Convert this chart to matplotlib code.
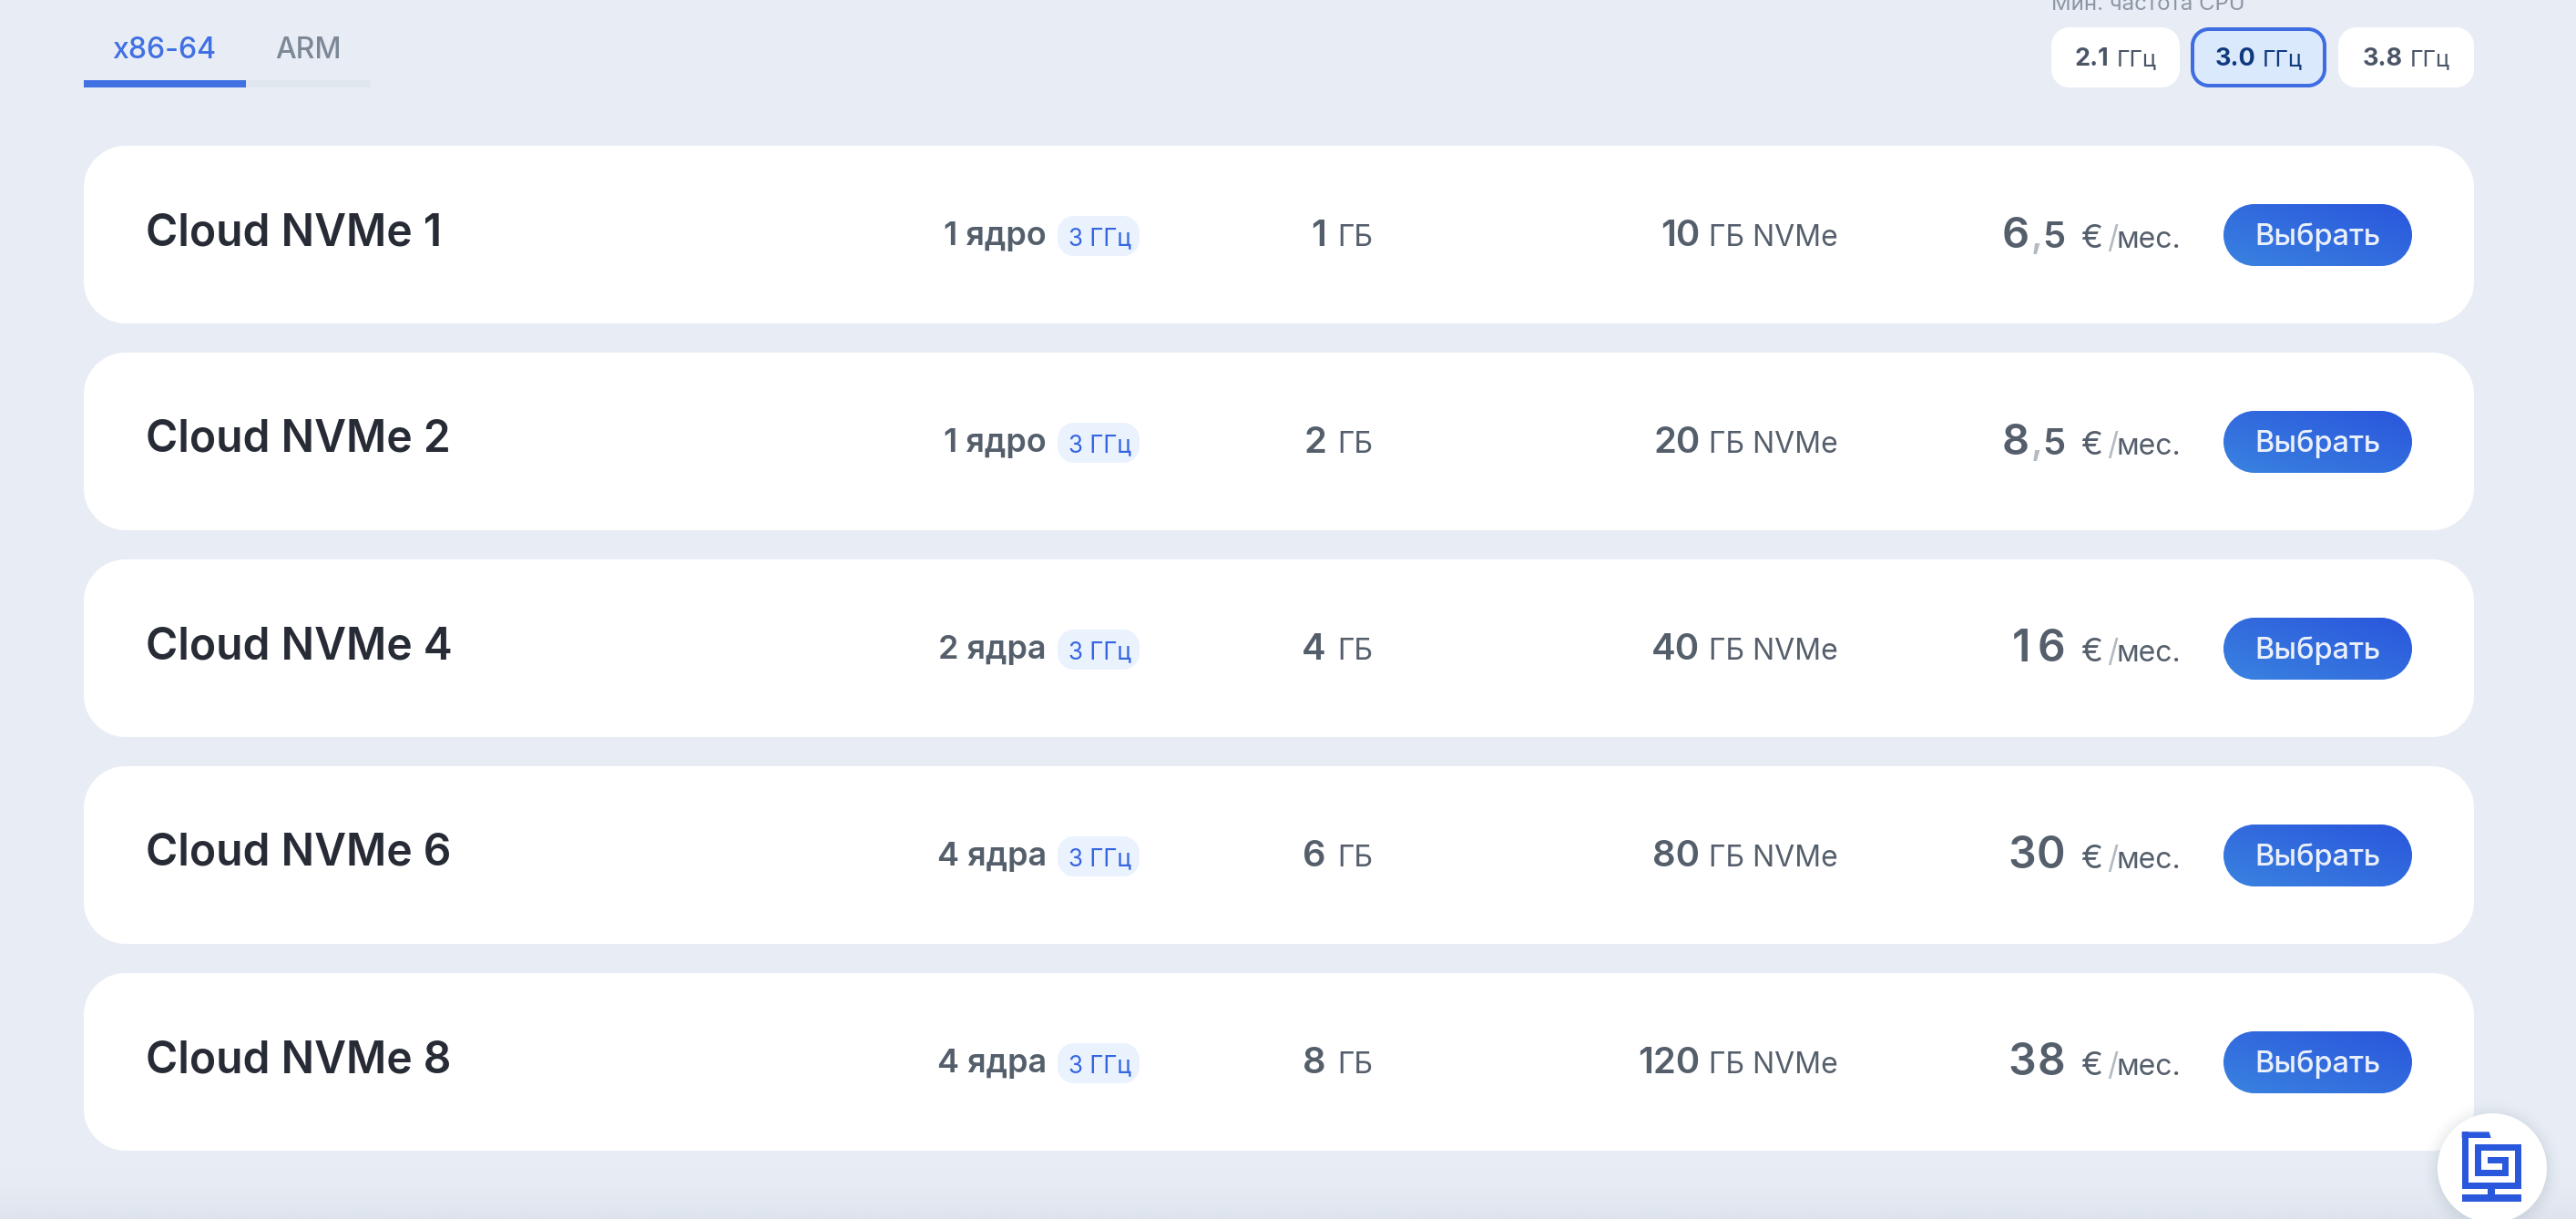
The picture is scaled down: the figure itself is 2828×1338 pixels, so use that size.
import matplotlib
matplotlib.use("Agg")
import matplotlib.pyplot as plt
import numpy as np
from matplotlib.patches import PathPatch, Rectangle, Circle, Polygon
from matplotlib.path import Path
from matplotlib.font_manager import FontProperties

W, H = 2828, 1338
DPI = 100
PX = 72.0 / DPI  # points per pixel

# ---------- data ----------
plans = ["Cloud NVMe 1", "Cloud NVMe 2", "Cloud NVMe 4", "Cloud NVMe 6", "Cloud NVMe 8"]
cores = ["1 ядро", "1 ядро", "2 ядра", "4 ядра", "4 ядра"]
ram_gb = ["1", "2", "4", "6", "8"]
disk_gb = ["10", "20", "40", "80", "120"]
price_int = ["6", "8", "16", "30", "38"]
price_frac = ["5", "5", "", "", ""]
freq_values = ["2.1", "3.0", "3.8"]
freq_selected = 1
tabs = ["x86-64", "ARM"]

# ---------- colours ----------
BG = "#E8EDF5"
DARK = "#272B35"
GREY = "#555F6C"
BLUE = "#4070E2"
LOGO = "#2A58DC"
SEMI = "semibold"

FONT = ["Inter", "DejaVu Sans"]
plt.rcParams["font.family"] = FONT

fig = plt.figure(figsize=(W / DPI, H / DPI), dpi=DPI, facecolor=BG)
ax = fig.add_axes([0, 0, 1, 1])
ax.set_xlim(0, W)
ax.set_ylim(H, 0)
ax.axis("off")
renderer = fig.canvas.get_renderer()


def rrect(x0, y0, x1, y1, r, fc, ec="none", lw=0, z=2):
    k = r * (1 - 0.5523)
    verts = [(x0 + r, y0), (x1 - r, y0),
             (x1 - k, y0), (x1, y0 + k), (x1, y0 + r),
             (x1, y1 - r),
             (x1, y1 - k), (x1 - k, y1), (x1 - r, y1),
             (x0 + r, y1),
             (x0 + k, y1), (x0, y1 - k), (x0, y1 - r),
             (x0, y0 + r),
             (x0, y0 + k), (x0 + k, y0), (x0 + r, y0),
             (x0 + r, y0)]
    codes = [Path.MOVETO, Path.LINETO,
             Path.CURVE4, Path.CURVE4, Path.CURVE4,
             Path.LINETO,
             Path.CURVE4, Path.CURVE4, Path.CURVE4,
             Path.LINETO,
             Path.CURVE4, Path.CURVE4, Path.CURVE4,
             Path.LINETO,
             Path.CURVE4, Path.CURVE4, Path.CURVE4,
             Path.CLOSEPOLY]
    p = PathPatch(Path(verts, codes), fc=fc, ec=ec, lw=lw * PX, zorder=z)
    ax.add_patch(p)
    return p


def txt(x, y, s, px, color, weight="normal", ha="left", z=5):
    return ax.text(x, y, s, fontsize=px * PX, color=color, weight=weight,
                   ha=ha, va="baseline", zorder=z)


def width(s, px, weight="normal"):
    fp = FontProperties(family=FONT, size=px * PX, weight=weight)
    t = ax.text(0, 0, s, fontproperties=fp)
    w = t.get_window_extent(renderer).width
    t.remove()
    return w


def runs_right(xr, y, items):
    """items: (string, px, color, weight, gap after) laid out to end at xr"""
    x = xr
    for s, px, c, w, gap in reversed(items):
        x -= gap
        txt(x, y, s, px, c, w, ha="right")
        x -= width(s, px, w)
    return x


def tabular_right(xr, y, s, px, color, weight):
    """Digits in equal cells, as the page's tabular figures."""
    cell = width("0", px, weight) + 1
    for j, ch in enumerate(s):
        cx = xr - (len(s) - j - 0.5) * cell
        txt(cx, y, ch, px, color, weight, ha="center")


# ---------- bottom page shade ----------
shade = np.zeros((64, 2, 4))
shade[:, :, :3] = np.array([0x9A, 0xA8, 0xB8]) / 255
shade[:, :, 3] = np.linspace(0, 1, 64)[:, None] ** 2 * 0.13
ax.imshow(shade, extent=(0, W, H, 1270), zorder=1, aspect="auto", interpolation="bilinear")

# ---------- tabs ----------
ax.add_patch(Rectangle((92, 88), 315, 8, fc="#DFE6EE", ec="none", zorder=2))
ax.add_patch(Rectangle((92, 88), 178, 8, fc=BLUE, ec="none", zorder=3))
txt(123, 64, tabs[0], 32, BLUE, "medium")
txt(302, 64, tabs[1], 32, "#7D8896", "medium")

# ---------- frequency selector ----------
txt(2252, 11, "Мин. частота CPU", 24, "#8C96A3")
chip_x = [(2252, 2393), (2405, 2554), (2567, 2716)]
for i, (v, (a, b)) in enumerate(zip(freq_values, chip_x)):
    sel = i == freq_selected
    if sel:
        rrect(a + 2, 32, b - 2, 94, 18, "#DBE9FD", ec="#3F6CE0", lw=4)
    else:
        rrect(a, 30, b, 96, 20, "white")
    col = "#0F3A7D" if sel else "#4A5568"
    w_total = width(v, 27, "bold") + 8 + width("ГГц", 25)
    xs = (a + b) / 2 - w_total / 2
    txt(xs, 72, v, 27, col, "bold")
    txt(xs + width(v, 27, "bold") + 8, 72, "ГГц", 25, col)

# ---------- cards ----------
grad = np.linspace(0, 1, 64)[None, :] + np.linspace(1, 0, 32)[:, None]
grad = grad / grad.max()
c0 = np.array([0x3A, 0x82, 0xE0]) / 255
c1 = np.array([0x2A, 0x56, 0xDC]) / 255
grad_img = c0[None, None, :] + (c1 - c0)[None, None, :] * grad[:, :, None]

CARD_TOP, CARD_H, PITCH = 160, 195, 227
for i, name in enumerate(plans):
    top = CARD_TOP + i * PITCH
    rrect(92, top, 2716, top + CARD_H, 46, "white")
    base = top + 109

    txt(160, base, name, 48, DARK, SEMI)

    # cores + badge
    txt(1149, base, cores[i], 36, GREY, SEMI, ha="right")
    rrect(1161, top + 77, 1251, top + 121, 18, "#EAF2FE", z=3)
    txt(1207, base, "3 ГГц", 26, "#3565E0", ha="center")

    # ram
    runs_right(1507, base + 1, [(ram_gb[i], 40, GREY, SEMI, 12), ("ГБ", 32, GREY, "normal", 0)])

    # disk
    runs_right(2018, base + 1, [(disk_gb[i], 40, GREY, SEMI, 10), ("ГБ NVMe", 32, GREY, "normal", 0)])

    # price
    pb = base + 3
    if price_frac[i]:
        runs_right(2267, pb, [(price_int[i], 47, GREY, SEMI, 1), (",", 40, "#B4BAC2", SEMI, 0),
                              (price_frac[i], 40, GREY, SEMI, 0)])
    else:
        tabular_right(2268, pb, price_int[i], 48, GREY, SEMI)
    txt(2284, pb, "€", 36, GREY)
    txt(2313, pb, "/", 34, "#B4BAC2")
    txt(2324, pb, "мес.", 32, GREY)

    # button with gradient fill
    clip = rrect(2441, top + 64, 2648, top + 132, 34, "none", z=3)
    im = ax.imshow(grad_img, extent=(2441, 2648, top + 132, top + 64), zorder=3,
                   aspect="auto", interpolation="bilinear")
    im.set_clip_path(clip)
    txt(2544, base, "Выбрать", 32.5, "#E9EFFB", "medium", ha="center")

# ---------- corner logo ----------
for r, a in zip(range(76, 60, -2), np.linspace(0.006, 0.03, 8)):
    ax.add_patch(Circle((2736, 1284), r, fc="#8A98A8", ec="none", alpha=a, zorder=6))
ax.add_patch(Circle((2736, 1282), 60, fc="white", ec="none", zorder=7))

# logo drawn in a 3x grid relative to (2400, 1100)
logo_rects = [
    (908, 427, 930, 614), (908, 594, 1104, 614), (1082, 467, 1104, 614),
    (950, 467, 1104, 490), (950, 467, 972, 574), (950, 553, 1062, 574),
    (1042, 510, 1062, 574), (992, 510, 1062, 532),
    (992, 614, 1017, 634), (908, 634, 1104, 657),
]
for a, b, c, d in logo_rects:
    ax.add_patch(Rectangle((2400 + a / 3, 1100 + b / 3), (c - a) / 3, (d - b) / 3,
                           fc=LOGO, ec="none", zorder=8))
top_bar = [(908, 427), (998, 427), (1004, 447), (908, 447)]
ax.add_patch(Polygon([(2400 + x / 3, 1100 + y / 3) for x, y in top_bar],
                     fc=LOGO, ec="none", zorder=8))

ax.set_xlim(0, W)
ax.set_ylim(H, 0)

fig.savefig("out.png", dpi=DPI, facecolor=BG)
